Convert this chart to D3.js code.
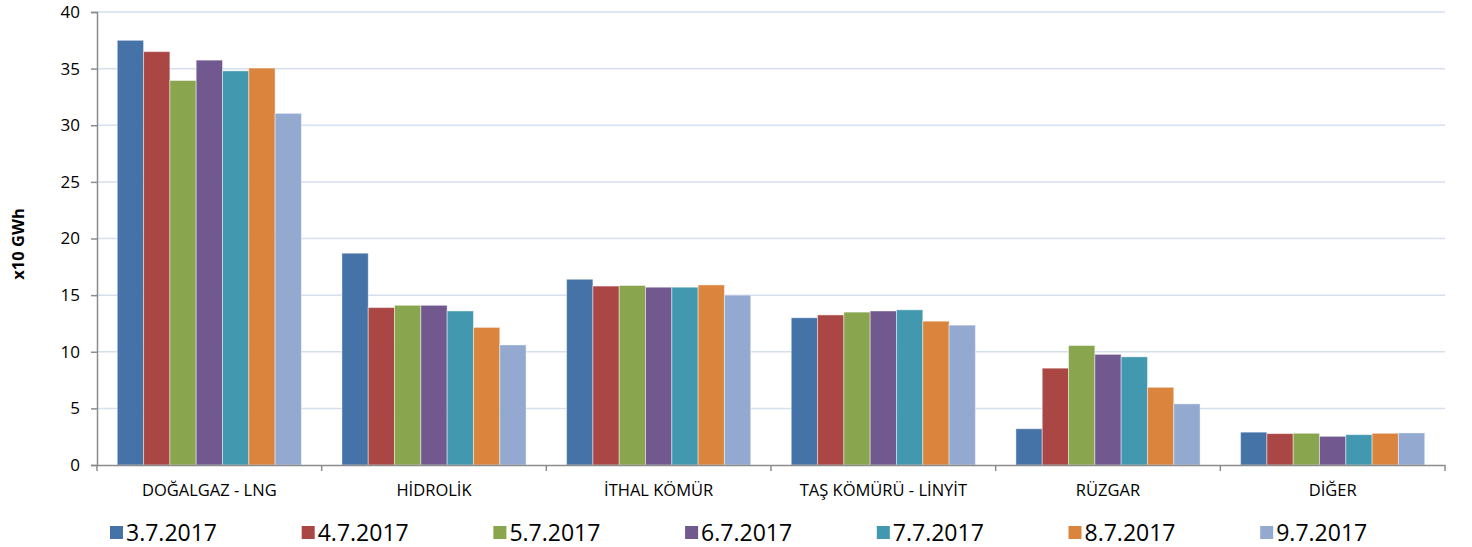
<!DOCTYPE html>
<html>
<head>
<meta charset="utf-8">
<script src="https://cdn.jsdelivr.net/npm/d3@7"></script>
<style>
  body { margin: 0; background: #fff; }
  #chart-container { width: 1472px; height: 547px; }
</style>
</head>
<body>
<div id="chart-container"></div>
<script>
// categories and series
const categories = ["DOĞALGAZ - LNG", "HİDROLİK", "İTHAL KÖMÜR", "TAŞ KÖMÜRÜ - LİNYİT", "RÜZGAR", "DİĞER"];
const seriesNames = ["3.7.2017", "4.7.2017", "5.7.2017", "6.7.2017", "7.7.2017", "8.7.2017", "9.7.2017"];
const colors = ["#4572A7", "#AA4643", "#89A54E", "#71588F", "#4198AF", "#DB843D", "#93A9CF"];

// one array per day, values per category (x10 GWh)
const d0307 = [37.5, 18.7, 16.4, 13.0, 3.2, 2.9];
const d0407 = [36.5, 13.9, 15.8, 13.25, 8.55, 2.77];
const d0507 = [33.95, 14.1, 15.85, 13.5, 10.55, 2.8];
const d0607 = [35.75, 14.1, 15.7, 13.6, 9.77, 2.53];
const d0707 = [34.8, 13.6, 15.7, 13.7, 9.55, 2.68];
const d0807 = [35.05, 12.15, 15.9, 12.7, 6.86, 2.8];
const d0907 = [31.05, 10.6, 15.0, 12.35, 5.4, 2.83];
const seriesValues = [d0307, d0407, d0507, d0607, d0707, d0807, d0907];

const yTicks = [0, 5, 10, 15, 20, 25, 30, 35, 40];

const width = 1472;
const height = 547;
const margin = { top: 12, right: 27, bottom: 82, left: 97 };
const font = "Open Sans, Liberation Sans, sans-serif";

const svg = d3.select("#chart-container")
    .append("svg")
    .attr("width", width)
    .attr("height", height);

const x0 = d3.scaleBand()
    .domain(categories)
    .range([margin.left, width - margin.right])
    .paddingInner(0)
    .paddingOuter(0);

const x1 = d3.scaleBand()
    .domain(seriesNames)
    .range([0, x0.bandwidth()])
    .paddingOuter(0.77)
    .paddingInner(0);

const y = d3.scaleLinear()
    .domain([0, 40])
    .range([height - margin.bottom, margin.top]);

// gridlines
svg.append("g")
    .selectAll("line")
    .data(yTicks.filter(d => d > 0))
    .enter()
    .append("line")
    .attr("x1", margin.left)
    .attr("x2", width - margin.right)
    .attr("y1", d => y(d))
    .attr("y2", d => y(d))
    .attr("stroke", "#d5e0ee")
    .attr("stroke-width", 1.5);

// bars
const groups = svg.append("g")
    .selectAll("g")
    .data(seriesNames)
    .enter()
    .append("g")
    .attr("fill", (d, i) => colors[i]);

groups.selectAll("rect")
    .data((d, i) => seriesValues[i].map((v, j) => ({ s: d, c: categories[j], v: v })))
    .enter()
    .append("rect")
    .attr("x", d => x0(d.c) + x1(d.s))
    .attr("y", d => y(d.v))
    .attr("width", x1.bandwidth())
    .attr("height", d => y(0) - y(d.v))
    .attr("stroke", "rgba(255,255,255,0.45)")
    .attr("stroke-width", 1);

// y axis
const yAxis = svg.append("g")
    .attr("transform", `translate(${margin.left},0)`)
    .call(d3.axisLeft(y).tickValues(yTicks).tickSize(6).tickPadding(11));
yAxis.select(".domain").attr("stroke", "#8c8c8c").attr("stroke-width", 1.5);
yAxis.selectAll(".tick line").attr("stroke", "#8c8c8c").attr("stroke-width", 1.5);
yAxis.selectAll(".tick text")
    .attr("font-family", font)
    .attr("font-size", 17)
    .attr("fill", "#000");

// x axis
const xAxis = svg.append("g")
    .attr("transform", `translate(0,${y(0)})`)
    .call(d3.axisBottom(x0).tickSize(0).tickPadding(19));
xAxis.select(".domain").attr("stroke", "#8c8c8c").attr("stroke-width", 1.5);
xAxis.selectAll(".tick text")
    .attr("font-family", font)
    .attr("font-size", 16.5)
    .attr("fill", "#000");
xAxis.selectAll(".sep")
    .data(d3.range(categories.length + 1))
    .enter()
    .append("line")
    .attr("class", "sep")
    .attr("x1", i => margin.left + i * x0.step())
    .attr("x2", i => margin.left + i * x0.step())
    .attr("y1", 0)
    .attr("y2", 6)
    .attr("stroke", "#8c8c8c")
    .attr("stroke-width", 1.5);

// y axis title
svg.append("text")
    .attr("transform", "translate(24,244) rotate(-90)")
    .attr("text-anchor", "middle")
    .attr("font-family", font)
    .attr("font-size", 16.5)
    .attr("font-weight", "bold")
    .text("x10 GWh");

// legend
const legend = svg.append("g")
    .selectAll("g")
    .data(seriesNames)
    .enter()
    .append("g")
    .attr("transform", (d, i) => `translate(${110 + i * 191.7},532.5)`);
legend.append("rect")
    .attr("x", 0)
    .attr("y", -6.5)
    .attr("width", 13)
    .attr("height", 13)
    .attr("fill", (d, i) => colors[i]);
legend.append("text")
    .attr("x", 16)
    .attr("y", 0)
    .attr("dy", "0.35em")
    .attr("font-family", font)
    .attr("font-size", 23)
    .attr("fill", "#000")
    .text(d => d);
</script>
</body>
</html>
